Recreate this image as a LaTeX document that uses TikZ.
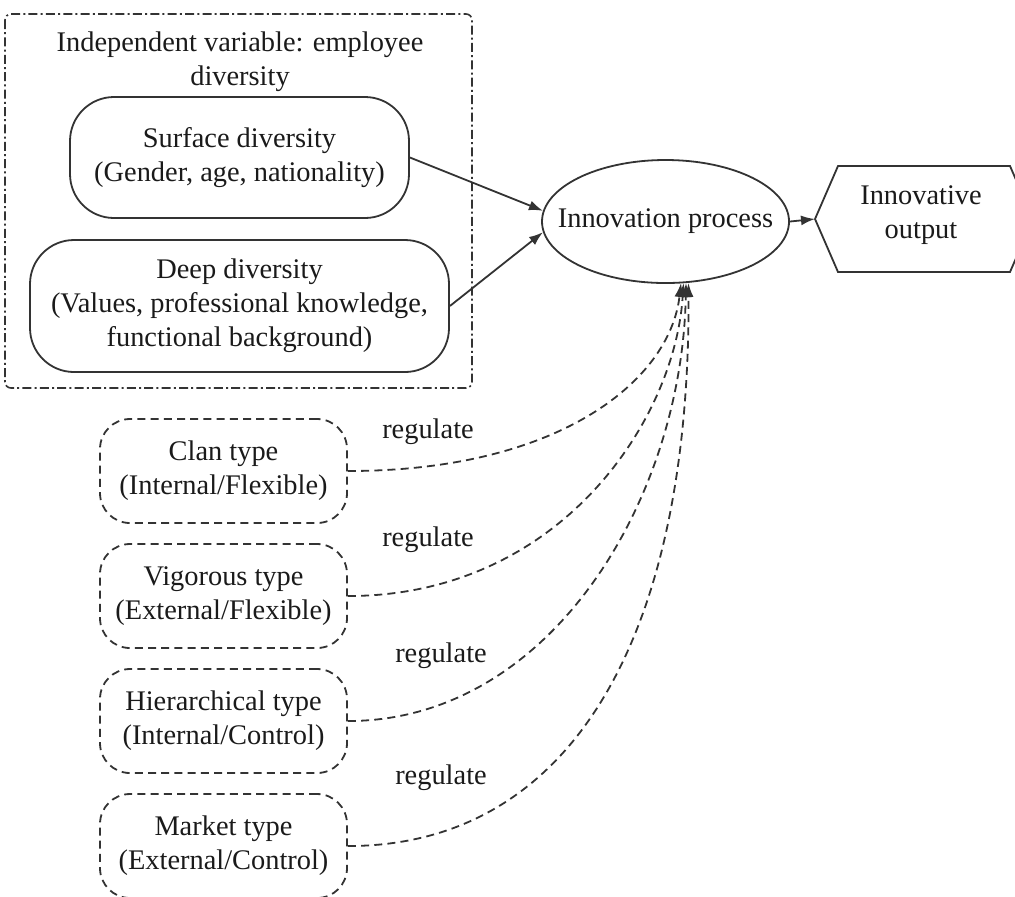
\documentclass[tikz,border=0pt]{standalone}
\usepackage{fontspec}
\setmainfont{Liberation Serif}
\usetikzlibrary{arrows.meta,shapes.geometric}
\definecolor{ln}{HTML}{333333}
\definecolor{tx}{HTML}{1A1A1A}
\tikzset{
  every node/.style={font=\fontsize{14.2}{17}\selectfont, text=tx, align=center, inner sep=0pt},
  divbox/.style={draw=ln, line width=0.9pt, rounded corners=22pt},
  typebox/.style={draw=ln, line width=0.9pt, rounded corners=15pt, dash pattern=on 4pt off 2.6pt,
    minimum width=123.5pt, minimum height=52pt},
  procell/.style={draw=ln, line width=0.9pt, ellipse, minimum width=123.5pt, minimum height=61.5pt},
  arr/.style={draw=ln, line width=0.9pt, -{Latex[length=7pt,width=5pt]}},
  darr/.style={arr, dash pattern=on 4pt off 2.6pt},
}
\begin{document}
\begin{tikzpicture}[x=0.5pt,y=-0.5pt]
\useasboundingbox (0,0) rectangle (1015,896);
% container
\draw[ln, line width=0.8pt, rounded corners=3pt, dash pattern=on 4.5pt off 1.6pt on 1pt off 1.6pt]
  (5,14) rectangle (472,388);
\node (title) at (240,62) {Independent variable: employee\\diversity};
\node[divbox, minimum width=169.5pt, minimum height=60.5pt] (surf) at (239.5,157.5)
  {Surface diversity\\(Gender, age, nationality)};
\node[divbox, minimum width=209.5pt, minimum height=66pt] (deep) at (239.5,306)
  {Deep diversity\\(Values, professional knowledge,\\functional background)};
% innovation process
\node[procell] (ip) at (665.5,221.5) {\makebox[0pt]{Innovation process}};
% output hexagon
\coordinate (hexL) at (815,219);
\draw[ln, line width=0.9pt] (hexL) -- (838,166) -- (1010,166) -- (1033,219) -- (1010,272) -- (838,272) -- cycle;
\node (out) at (921,215.5) {Innovative\\output};
% type boxes
\node[typebox] (clan) at (223.5,471) {Clan type\\(Internal/Flexible)};
\node[typebox] (vig) at (223.5,596) {Vigorous type\\(External/Flexible)};
\node[typebox] (hier) at (223.5,721) {Hierarchical type\\(Internal/Control)};
\node[typebox] (mkt) at (223.5,846) {Market type\\(External/Control)};
% regulate labels
\node (r1) at (428,432) {regulate};
\node (r2) at (428,540) {regulate};
\node (r3) at (441,656) {regulate};
\node (r4) at (441,778) {regulate};
% arrows
\draw[arr] (surf.east) -- (ip.175);
\draw[arr] (deep.east) -- (ip.185);
\draw[arr] (ip.east) -- (hexL);
\coordinate (e1) at (681,283);
\coordinate (e2) at (683.5,283);
\coordinate (e3) at (686,283);
\coordinate (e4) at (688.5,283);
\draw[darr] (clan.east) .. controls (560,471) and (670,380) .. (e1);
\draw[darr] (vig.east) .. controls (560,596) and (675,420) .. (e2);
\draw[darr] (hier.east) .. controls (550,721) and (682,500) .. (e3);
\draw[darr] (mkt.east) .. controls (570,846) and (690,640) .. (e4);
\end{tikzpicture}
\end{document}
